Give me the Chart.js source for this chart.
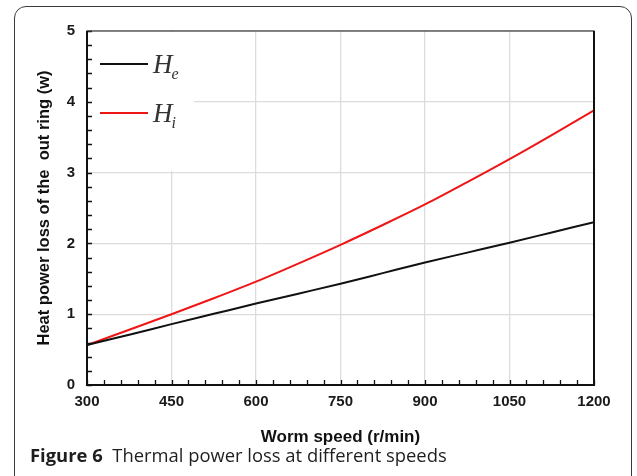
<!DOCTYPE html>
<html>
<head>
<meta charset="utf-8">
<script src="https://cdn.jsdelivr.net/npm/chart.js@4.4.0/dist/chart.umd.min.js"></script>
<style>
  html, body { margin: 0; padding: 0; background: #fff; width: 637px; height: 476px; overflow: hidden; }
  #frame { position: absolute; left: 14px; top: 6px; width: 618px; height: 490px; border: 1.5px solid #3a3a3a; border-radius: 12px; box-sizing: border-box; }
  #wrap { position: absolute; left: 0; top: 0; width: 637px; height: 476px; }
  #caption { position: absolute; left: 30px; top: 442px; font-family: "Open Sans", sans-serif; font-size: 18.4px; color: #1e1e1e; white-space: pre; }
  #caption b { font-weight: 700; }
</style>
</head>
<body>
<div id="frame"></div>
<div id="wrap"><canvas id="c" width="637" height="476"></canvas></div>
<div id="caption"><b>Figure 6</b>  Thermal power loss at different speeds</div>
<script>
// ---- data ----
const speeds = [300, 375, 450, 525, 600, 675, 750, 825, 900, 975, 1050, 1125, 1200];
const He = [0.565, 0.71, 0.86, 1.005, 1.15, 1.29, 1.43, 1.58, 1.73, 1.87, 2.01, 2.155, 2.30];
const Hi = [0.565, 0.78, 1.00, 1.225, 1.46, 1.715, 1.98, 2.26, 2.55, 2.865, 3.19, 3.53, 3.88];
const seriesNames = ["e", "i"];
const xTicks = [300, 450, 600, 750, 900, 1050, 1200];
const yTicks = [0, 1, 2, 3, 4, 5];
const xTitle = "Worm speed (r/min)";
const yTitle = "Heat power loss of the  out ring (w)";

const colors = ["#111111", "#f01515"];
const sans = "'Liberation Sans', Arial, sans-serif";

const decorPlugin = {
  id: "decor",
  beforeDatasetsDraw(chart) {
    const { ctx, chartArea: a } = chart;
    // legend background box covering grid lines
    ctx.save();
    ctx.fillStyle = "#ffffff";
    ctx.fillRect(a.left + 1, a.top + 1, 106, 139);
    ctx.restore();
  },
  afterDatasetsDraw(chart) {
    const { ctx, chartArea: a, scales } = chart;
    const xs = scales.x, ys = scales.y;
    ctx.save();
    // minor ticks (inward)
    ctx.strokeStyle = "#111";
    ctx.lineWidth = 1.3;
    ctx.beginPath();
    for (let v = 0; v <= 5.0001; v += 0.2) {
      const py = Math.round(ys.getPixelForValue(v)) + 0.5;
      ctx.moveTo(a.left, py); ctx.lineTo(a.left + 5, py);
    }
    for (let v = 300; v <= 1200; v += 30) {
      const px = Math.round(xs.getPixelForValue(v)) + 0.5;
      ctx.moveTo(px, a.bottom); ctx.lineTo(px, a.bottom - 5);
    }
    ctx.stroke();
    // plot frame
    ctx.strokeStyle = "#3a3a3a";
    ctx.lineWidth = 1.2;
    ctx.strokeRect(a.left, a.top, a.right - a.left, a.bottom - a.top);
    ctx.strokeStyle = "#111";
    ctx.lineWidth = 2;
    ctx.beginPath();
    ctx.moveTo(a.left, a.top); ctx.lineTo(a.left, a.bottom); ctx.lineTo(a.right, a.bottom); ctx.lineTo(a.right, a.top);
    ctx.stroke();
    // legend
    const rows = [a.top + 33, a.top + 82];
    seriesNames.forEach((s, i) => {
      const y = rows[i];
      ctx.strokeStyle = colors[i];
      ctx.lineWidth = 2.2;
      ctx.beginPath();
      ctx.moveTo(a.left + 13, y); ctx.lineTo(a.left + 61, y);
      ctx.stroke();
      ctx.fillStyle = "#333";
      ctx.textBaseline = "alphabetic";
      ctx.font = "italic 27px 'Liberation Serif', serif";
      ctx.fillText("H", a.left + 66, y + 9);
      const w = ctx.measureText("H").width;
      ctx.font = "italic 16px 'Liberation Serif', serif";
      ctx.fillText(s, a.left + 66 + w - 1, y + 15);
    });
    ctx.restore();
  }
};

new Chart(document.getElementById("c"), {
  type: "line",
  data: {
    datasets: [
      { label: "He", data: speeds.map((x, i) => ({ x, y: He[i] })), borderColor: colors[0], borderWidth: 2, pointRadius: 0, cubicInterpolationMode: "monotone", fill: false },
      { label: "Hi", data: speeds.map((x, i) => ({ x, y: Hi[i] })), borderColor: colors[1], borderWidth: 2, pointRadius: 0, cubicInterpolationMode: "monotone", fill: false }
    ]
  },
  options: {
    responsive: false,
    animation: false,
    devicePixelRatio: 1,
    layout: { padding: { left: 33, right: 43, top: 31, bottom: 24 } },
    plugins: { legend: { display: false }, tooltip: { enabled: false } },
    scales: {
      x: {
        type: "linear", min: 300, max: 1200,
        afterBuildTicks: s => { s.ticks = xTicks.map(v => ({ value: v })); },
        afterFit: s => { s.height = 67; },
        grid: { color: "#dcdcdc", lineWidth: 1.3, drawTicks: false },
        border: { display: false },
        ticks: { padding: 8, color: "#1a1a1a", font: { family: sans, size: 15, weight: "bold" }, maxRotation: 0, callback: v => String(v) },
        title: { display: true, text: xTitle, color: "#111", font: { family: sans, size: 17, weight: "bold" }, padding: { top: 4, bottom: 4 } }
      },
      y: {
        type: "linear", min: 0, max: 5,
        afterBuildTicks: s => { s.ticks = yTicks.map(v => ({ value: v })); },
        afterFit: s => { s.width = 54; },
        grid: { color: "#dcdcdc", lineWidth: 1.3, drawTicks: false },
        border: { display: false },
        ticks: { padding: 12, color: "#1a1a1a", font: { family: sans, size: 15, weight: "bold" }, callback: v => String(v) },
        title: { display: true, text: yTitle, color: "#111", font: { family: sans, size: 16.5, weight: "bold" }, padding: { top: 2, bottom: 4 } }
      }
    }
  },
  plugins: [decorPlugin]
});
</script>
</body>
</html>
